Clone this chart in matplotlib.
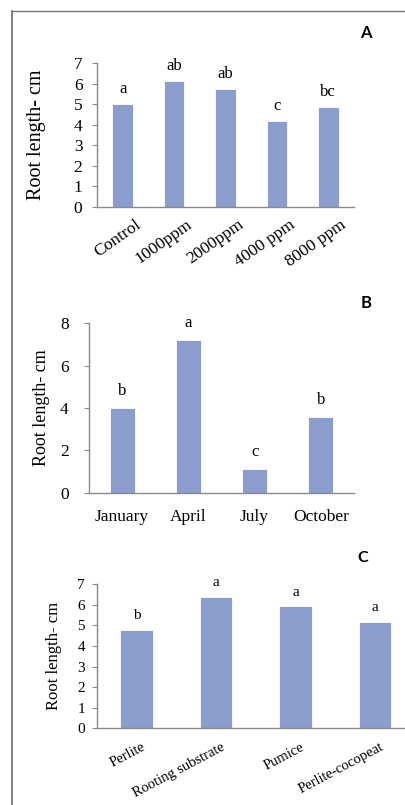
import matplotlib
matplotlib.use("Agg")
import matplotlib.pyplot as plt
from matplotlib.lines import Line2D
from matplotlib.transforms import ScaledTranslation

# Panel A: concentration treatments
conc_labels = ["Control", "1000ppm", "2000ppm", "4000 ppm", "8000 ppm"]
conc_values = [5.0, 6.13, 5.74, 4.17, 4.84]
conc_letters = ["a", "ab", "ab", "c", "bc"]

# Panel B: sampling month
month_labels = ["January", "April", "July", "October"]
month_values = [4.0, 7.2, 1.13, 3.58]
month_letters = ["b", "a", "c", "b"]

# Panel C: rooting medium
media_labels = ["Perlite", "Rooting substrate", "Pumice", "Perlite-cocopeat"]
media_values = [4.78, 6.4, 5.93, 5.17]
media_letters = ["b", "a", "a", "a"]

BAR = "#8b9dcc"
AXIS = "#8a8a8a"
SERIF = "Liberation Serif"

W, H = 406, 805
fig = plt.figure(figsize=(W / 100, H / 100), dpi=100)


def px_axes(left, right, top, bottom):
    return fig.add_axes([left / W, 1 - bottom / H, (right - left) / W, (bottom - top) / H])


def style(ax, ymax, ticks, tick_fs, tick_pad, label_fs, label_x):
    for side in ("top", "right"):
        ax.spines[side].set_visible(False)
    for side in ("left", "bottom"):
        ax.spines[side].set_color(AXIS)
        ax.spines[side].set_linewidth(1.0)
    ax.set_ylim(0, ymax)
    ax.set_yticks(ticks)
    ax.tick_params(axis="y", direction="out", length=3.5, color=AXIS, labelsize=tick_fs,
                   pad=tick_pad)
    ax.tick_params(axis="x", length=0)
    for t in ax.get_yticklabels():
        t.set_fontfamily(SERIF)
    ax.set_ylabel("Root length- cm", fontfamily=SERIF, fontsize=label_fs)
    ax.yaxis.set_label_coords(label_x, 0.5)


def bars(ax, labels, values, letters, width, off, fs):
    x = list(range(len(labels)))
    ax.bar(x, values, width=width, color=BAR, edgecolor="white", linewidth=0.6, zorder=2)
    ax.set_xlim(-0.5, len(labels) - 0.5)
    for xi, v, s in zip(x, values, letters):
        ax.annotate(s, (xi, v), xytext=(0, off), textcoords="offset pixels",
                    ha="center", va="center", fontfamily=SERIF, fontsize=fs)


def slanted(ax, labels, angle, fs, pad, dx, dy):
    ax.set_xticks(range(len(labels)))
    ax.set_xticklabels(labels, rotation=angle, ha="right", rotation_mode="anchor",
                       fontfamily=SERIF, fontsize=fs)
    ax.tick_params(axis="x", pad=pad)
    shift = ScaledTranslation(dx / 100, -dy / 100, fig.dpi_scale_trans)
    for t in ax.get_xticklabels():
        t.set_transform(t.get_transform() + shift)


# ---- A ----
axA = px_axes(97, 354, 63, 207)
bars(axA, conc_labels, conc_values, conc_letters, 0.4, 15, 12)
style(axA, 7, range(0, 8), 12.5, 7, 14.5, (46 - 97) / 257)
slanted(axA, conc_labels, 35, 12.5, 4, 12, 4)
fig.text(366 / W, 1 - 33 / H, "A", fontfamily="Lato", fontweight="bold", fontsize=12,
         ha="center", va="center")

# ---- B ----
axB = px_axes(89, 354, 323.3, 492.7)
bars(axB, month_labels, month_values, month_letters, 0.38, 17, 12)
style(axB, 8, range(0, 9, 2), 12.5, 11, 13, (50 - 89) / 265)
axB.set_xticks(range(len(month_labels)))
axB.set_xticklabels(month_labels, fontfamily=SERIF, fontsize=12.5)
axB.tick_params(axis="x", pad=12)
fig.text(366 / W, 1 - 302.7 / H, "B", fontfamily="Lato", fontweight="bold", fontsize=12,
         ha="center", va="center")

# ---- C ----
axC = px_axes(96.7, 414.7, 584.3, 728.3)
bars(axC, media_labels, media_values, media_letters, 0.41, 14, 11)
style(axC, 7, range(0, 8), 11, 5, 12, (62 - 96.7) / 318)
slanted(axC, media_labels, 28, 10.5, 6, 5, 4)
fig.text(363 / W, 1 - 558 / H, "C", fontfamily="Lato", fontweight="bold", fontsize=11.5,
         ha="center", va="center")

# Frame lines around the figure (left and top)
fig.add_artist(Line2D([12.5 / W, 12.5 / W], [1 - 11 / H, 0], transform=fig.transFigure,
                      color="#777777", linewidth=1.3))
fig.add_artist(Line2D([12.5 / W, 1], [1 - 11 / H, 1 - 11 / H], transform=fig.transFigure,
                      color="#777777", linewidth=1.0))

fig.savefig("out.png", dpi=100, facecolor="white")
